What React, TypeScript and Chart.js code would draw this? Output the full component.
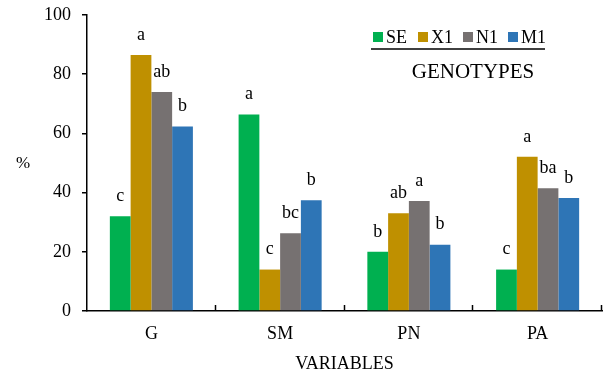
import React, { useEffect, useRef } from "react";
import { Chart, registerables } from "chart.js";

Chart.register(...registerables);

const categories = ["G", "SM", "PN", "PA"];
const seriesNames = ["SE", "X1", "N1", "M1"];
const seValues = [32, 66.4, 20, 14];
const x1Values = [86.5, 14, 33, 52.1];
const n1Values = [74, 26.3, 37.2, 41.5];
const m1Values = [62.3, 37.4, 22.4, 38.2];
const seLetters = ["c", "a", "b", "c"];
const x1Letters = ["a", "c", "ab", "a"];
const n1Letters = ["ab", "bc", "a", "ba"];
const m1Letters = ["b", "b", "b", "b"];
const colors = ["#00B050", "#BF9000", "#767171", "#2E75B6"];
const yTicks = [0, 20, 40, 60, 80, 100];

const FONT = "'Liberation Serif', 'Times New Roman', serif";

export default function App() {
  const ref = useRef<HTMLCanvasElement>(null);

  useEffect(() => {
    document.body.style.margin = "0";
    const canvas = ref.current;
    if (!canvas) return;
    const values = [seValues, x1Values, n1Values, m1Values];
    const letters = [seLetters, x1Letters, n1Letters, m1Letters];

    const extras = {
      id: "extras",
      afterDatasetsDraw(chart: any) {
        const ctx = chart.ctx;
        ctx.save();
        ctx.fillStyle = "#000";
        ctx.font = `18px ${FONT}`;
        ctx.textAlign = "center";
        ctx.textBaseline = "middle";
        chart.data.datasets.forEach((ds: any, di: number) => {
          const meta = chart.getDatasetMeta(di);
          meta.data.forEach((bar: any, i: number) => {
            ctx.fillText(letters[di][i], bar.x, bar.y - 20);
          });
        });
        ctx.restore();
      },
      afterDraw(chart: any) {
        const ctx = chart.ctx;
        const xs = chart.scales.x;
        const area = chart.chartArea;
        ctx.save();
        ctx.strokeStyle = "#000";
        ctx.lineWidth = 1.5;
        for (let i = 0; i < categories.length; i++) {
          const px = Math.round(xs.getPixelForValue(i + 0.5)) - 0.5;
          ctx.beginPath();
          ctx.moveTo(px, area.bottom);
          ctx.lineTo(px, area.bottom - 6);
          ctx.stroke();
        }
        ctx.fillStyle = "#000";
        ctx.font = `17px ${FONT}`;
        ctx.textAlign = "center";
        ctx.textBaseline = "middle";
        ctx.fillText("%", 23, 164);
        const items = chart.data.datasets.map((d: any) => ({ label: d.label, color: d.backgroundColor }));
        const startXs = [373, 418, 463, 508];
        ctx.textAlign = "left";
        ctx.font = `18px ${FONT}`;
        items.forEach((it: any, i: number) => {
          ctx.fillStyle = it.color;
          ctx.fillRect(startXs[i], 32, 10, 10);
          ctx.fillStyle = "#000";
          ctx.fillText(it.label, startXs[i] + 13, 38);
        });
        ctx.strokeStyle = "#000";
        ctx.lineWidth = 1.5;
        ctx.beginPath();
        ctx.moveTo(371, 49);
        ctx.lineTo(545, 49);
        ctx.stroke();
        ctx.textAlign = "center";
        ctx.font = `21px ${FONT}`;
        ctx.fillText("GENOTYPES", 473, 72);
        ctx.restore();
      },
    };

    const chart = new Chart(canvas, {
      type: "bar",
      data: {
        labels: categories,
        datasets: seriesNames.map((name, i) => ({
          label: name,
          data: values[i],
          backgroundColor: colors[i],
          borderWidth: 0,
          categoryPercentage: 0.645,
          barPercentage: 1,
        })),
      },
      options: {
        animation: false,
        responsive: false,
        maintainAspectRatio: false,
        layout: { padding: { top: 15, right: 3, left: 0, bottom: 0 } },
        plugins: {
          legend: { display: false },
          tooltip: { enabled: false },
        },
        scales: {
          x: {
            grid: { display: false, drawTicks: false },
            border: { display: true, color: "#000", width: 1.5 },
            ticks: { color: "#000", font: { family: FONT, size: 18 }, padding: 12 },
            title: {
              display: true,
              text: "VARIABLES",
              color: "#000",
              font: { family: FONT, size: 18 },
              padding: { top: 0, bottom: 0 },
            },
            afterFit(scale: any) {
              scale.height = 64;
              scale.paddingLeft = 0;
              scale.paddingRight = 0;
            },
          },
          y: {
            min: 0,
            max: 100,
            afterBuildTicks(scale: any) {
              scale.ticks = yTicks.map((v) => ({ value: v }));
            },
            grid: { drawOnChartArea: false, drawTicks: true, tickLength: 5, color: "#000", lineWidth: 1.5 },
            border: { display: true, color: "#000", width: 1.5 },
            ticks: { color: "#000", font: { family: FONT, size: 18 }, padding: 11 },
            afterFit(scale: any) {
              scale.width = 87;
              scale.paddingTop = 0;
              scale.paddingBottom = 0;
            },
          },
        },
      },
      plugins: [extras],
    });
    return () => chart.destroy();
  }, []);

  return (
    <div style={{ width: 605, height: 375, background: "#fff" }}>
      <canvas ref={ref} width={605} height={375} style={{ display: "block" }} />
    </div>
  );
}
